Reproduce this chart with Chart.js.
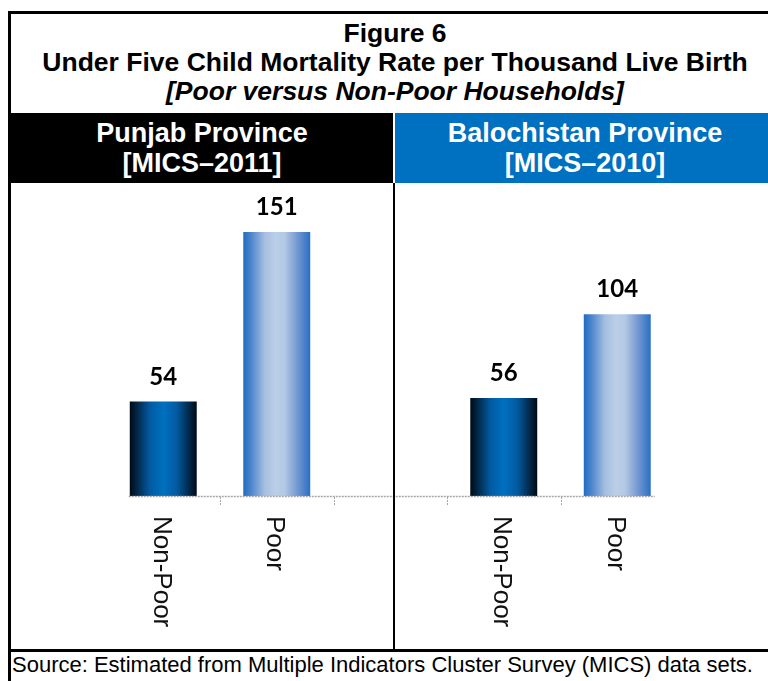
<!DOCTYPE html>
<html>
<head>
<meta charset="utf-8">
<script src="https://cdn.jsdelivr.net/npm/chart.js@4/dist/chart.umd.min.js"></script>
<style>
  html, body { margin: 0; padding: 0; background: #fff; }
  body { width: 768px; height: 681px; position: relative; overflow: hidden;
         font-family: "Liberation Sans", Arial, sans-serif; }
  #frame { position: absolute; left: 8px; top: 11px; width: 800px; height: 720px;
           border: 3px solid #000; box-sizing: border-box; }
  #title { position: absolute; left: 8px; width: 774px; top: 19px; text-align: center;
           font-size: 26.5px; font-weight: bold; line-height: 29px; color: #000; }
  #title i { font-style: italic; }
  .head { position: absolute; top: 113px; height: 70px; box-sizing: border-box; padding-top: 5px;
          color: #fff; font-size: 27px; font-weight: bold; line-height: 30px; text-align: center; }
  #headLeft { left: 11px; width: 382px; background: #000; }
  #headRight { left: 395px; width: 380px; background: #0070c0; }
  #divider { position: absolute; left: 393px; top: 183px; width: 2px; height: 468px; background: #000; z-index: 2; }
  #bottomLine { position: absolute; left: 8px; top: 649px; width: 780px; height: 3px; background: #000; z-index: 2; }
  #source { position: absolute; left: 12px; top: 653px; font-size: 22px; line-height: 24px; color: #000; white-space: nowrap; }
  #wrap { position: absolute; left: 0; top: 183px; width: 768px; height: 467px; }
</style>
</head>
<body>
<div id="frame"></div>
<div id="title">Figure 6<br>Under Five Child Mortality Rate per Thousand Live Birth<br><i>[Poor versus Non-Poor Households]</i></div>
<div class="head" id="headLeft">Punjab Province<br>[MICS–2011]</div>
<div class="head" id="headRight">Balochistan Province<br>[MICS–2010]</div>
<div id="wrap"><canvas id="chart" width="768" height="467"></canvas></div>
<div id="divider"></div>
<div id="bottomLine"></div>
<div id="source">Source: Estimated from Multiple Indicators Cluster Survey (MICS) data sets.</div>

<script>
// categories: Punjab pair, empty slot, Balochistan pair
const categories = ["Non-Poor", "Poor", "", "Non-Poor", "Poor"];
const mortality = [54, 151, null, 56, 104];
const groupKind = ["nonpoor", "poor", null, "nonpoor", "poor"];

const BAR_PCT = 0.59;

// horizontal "cylinder" shading for each bar
function barFill(context) {
  const chart = context.chart;
  const area = chart.chartArea;
  const kind = groupKind[context.dataIndex];
  if (!area) return kind === "poor" ? "#9ab8e0" : "#0060a8";
  const xs = chart.scales.x;
  const cx = xs.getPixelForValue(context.dataIndex);
  const w = (area.right - area.left) / categories.length * BAR_PCT;
  const g = chart.ctx.createLinearGradient(cx - w / 2, 0, cx + w / 2, 0);
  if (kind === "poor") {
    g.addColorStop(0, "#1f6cc4");
    g.addColorStop(0.12, "#4f86cc");
    g.addColorStop(0.32, "#a6bfe1");
    g.addColorStop(0.48, "#bacee7");
    g.addColorStop(0.62, "#b2c8e4");
    g.addColorStop(0.82, "#6f95d0");
    g.addColorStop(1, "#2a6fc4");
  } else {
    g.addColorStop(0, "#000a14");
    g.addColorStop(0.12, "#022a4c");
    g.addColorStop(0.3, "#035aa2");
    g.addColorStop(0.5, "#0070c0");
    g.addColorStop(0.7, "#035aa2");
    g.addColorStop(0.88, "#022a4c");
    g.addColorStop(1, "#000a14");
  }
  return g;
}

// axis line, tick marks, value labels and vertical category names
const decorations = {
  id: "decorations",
  afterDatasetsDraw(chart) {
    const ctx = chart.ctx;
    const xs = chart.scales.x;
    const area = chart.chartArea;
    const catW = (area.right - area.left) / categories.length;
    const w = catW * BAR_PCT;
    const base = area.bottom;

    ctx.save();
    // axis line, from first bar to last bar
    ctx.strokeStyle = "#a6a6a6";
    ctx.lineWidth = 1.5;
    ctx.setLineDash([2, 1]);
    ctx.beginPath();
    ctx.moveTo(xs.getPixelForValue(0) - w / 2 - 1, base + 0.5);
    ctx.lineTo(xs.getPixelForValue(categories.length - 1) + w / 2 + 4, base + 0.5);
    ctx.stroke();

    // tick marks between categories
    ctx.lineWidth = 1;
    for (let i = 1; i < categories.length; i++) {
      const tx = Math.round(area.left + catW * i) + 0.5;
      ctx.beginPath();
      ctx.moveTo(tx, base + 1);
      ctx.lineTo(tx, base + 9);
      ctx.stroke();
    }
    ctx.setLineDash([]);

    // value labels
    const meta = chart.getDatasetMeta(0);
    ctx.fillStyle = "#000";
    ctx.font = "bold 24px Lato, 'DejaVu Sans', sans-serif";
    ctx.textAlign = "center";
    ctx.textBaseline = "alphabetic";
    meta.data.forEach((bar, i) => {
      if (mortality[i] == null) return;
      ctx.fillText(String(mortality[i]), bar.x, bar.y - 17);
    });

    // category names, reading top to bottom
    ctx.font = "26px 'Liberation Sans', Arial, sans-serif";
    ctx.textAlign = "left";
    ctx.fillStyle = "#111";
    const cap = 26 * 0.716;
    categories.forEach((name, i) => {
      if (!name) return;
      const cx = xs.getPixelForValue(i);
      ctx.save();
      ctx.translate(cx - cap / 2, base + 20);
      ctx.rotate(Math.PI / 2);
      ctx.fillText(name, 0, 0);
      ctx.restore();
    });
    ctx.restore();
  }
};

const yMax = 160;
const pxPerUnit = 264 / 151;
const axisY = 313;

const config = {
  type: "bar",
  data: {
    labels: categories,
    datasets: [{
      label: "Under five mortality",
      data: mortality,
      backgroundColor: barFill,
      borderWidth: 0,
      categoryPercentage: 1,
      barPercentage: BAR_PCT
    }]
  },
  options: {
    responsive: false,
    animation: false,
    layout: {
      padding: { left: 106.5, right: 94, top: axisY - yMax * pxPerUnit, bottom: 467 - axisY }
    },
    plugins: { legend: { display: false }, tooltip: { enabled: false } },
    scales: {
      x: { display: false },
      y: { display: false, min: 0, max: yMax }
    }
  },
  plugins: [decorations]
};

let chart = new Chart(document.getElementById("chart").getContext("2d"), config);
</script>
</body>
</html>
